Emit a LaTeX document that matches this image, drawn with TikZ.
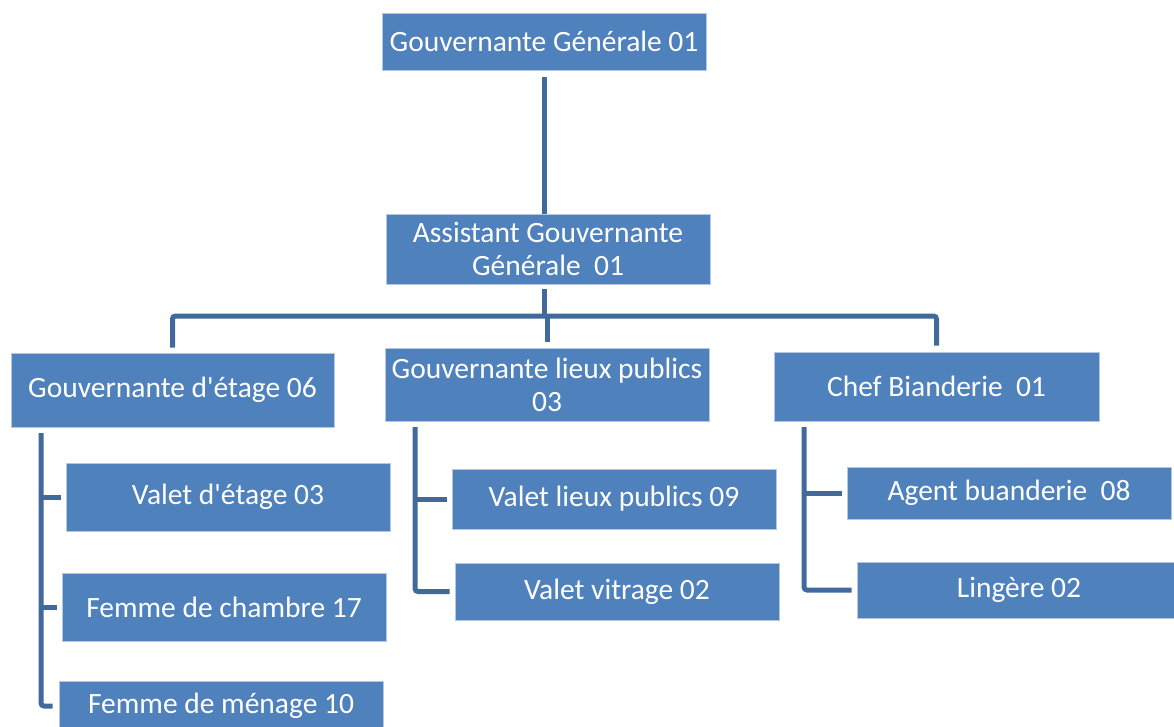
\documentclass[tikz,border=0pt]{standalone}
\usepackage{fontspec}
\setmainfont{Carlito}
\definecolor{boxblue}{HTML}{4F81BD}
\definecolor{boxedge}{HTML}{B4C8E2}
\definecolor{linkblue}{HTML}{41699C}
\begin{document}
\begin{tikzpicture}[x=1pt,y=-1pt,
  unit/.style={fill=boxblue,draw=boxedge,line width=0.8pt,text=white,
    inner sep=0pt,align=center,font=\fontsize{29.5}{33}\selectfont,
    minimum width=324pt},
  conn/.style={draw=linkblue,line width=5pt,rounded corners=3pt}]
\useasboundingbox (0,0) rectangle (1174,726);
\clip (0,0) rectangle (1174,726);

% management levels
\node[unit,minimum height=57pt] (top)  at (544,41.5) {Gouvernante Générale 01};
\node[unit,minimum height=70pt] (asst) at (548,249) {Assistant Gouvernante\\Générale~~01};

% department heads
\node[unit,minimum width=323pt,minimum height=74pt] (ge) at (172.5,390) {Gouvernante d\textquotesingle étage 06};
\node[unit,minimum height=73pt] (glp)  at (547,384.5) {Gouvernante lieux publics\\03};
\node[unit,minimum width=325pt,minimum height=69pt] (chef) at (936.5,386.5) {Chef Bianderie~~01};

% floor staff
\node[unit,minimum height=68pt] (vde) at (228,497) {Valet d\textquotesingle étage 03};
\node[unit,minimum height=68pt] (fdc) at (224,607) {Femme de chambre 17};
\node[unit,minimum height=50pt] (fdm) at (221,706) {Femme de ménage 10};

% public areas staff
\node[unit,minimum height=60pt] (vlp) at (614,499) {Valet lieux publics 09};
\node[unit,minimum height=57pt] (vv)  at (617,591.5) {Valet vitrage 02};

% laundry staff
\node[unit,minimum height=52pt] (ab)  at (1009,493) {Agent buanderie~~08};
\node[unit,minimum height=56pt] (lin) at (1019,590) {Lingère 02};

% hierarchy links (y axis points down, so a downward shift is a negative yshift)
\coordinate (hub) at (544,316);
\coordinate (lbus) at (41,433);
\coordinate (mbus) at (415,427);
\coordinate (rbus) at (804,427);

\draw[conn] ([yshift=-7pt]top.south) -- (top.south |- asst.north);
\draw[conn] ([yshift=-5pt]asst.south -| hub) -- (hub);
\draw[conn] (hub) -| ([yshift=5pt]ge.north);
\draw[conn] (hub) -| ([yshift=6pt]chef.north);
\draw[conn] (glp.north |- hub) -- ([yshift=6pt]glp.north);

\draw[conn] (lbus) |- ([xshift=-6pt]fdm.west);
\draw[conn] (lbus |- vde.west) -- ([xshift=-5pt]vde.west);
\draw[conn] (lbus |- fdc.west) -- ([xshift=-5pt]fdc.west);

\draw[conn] (mbus) |- ([xshift=-5pt]vv.west);
\draw[conn] (mbus |- vlp.west) -- ([xshift=-5pt]vlp.west);

\draw[conn] (rbus) |- ([xshift=-5pt]lin.west);
\draw[conn] (rbus |- ab.west) -- ([xshift=-5pt]ab.west);
\end{tikzpicture}
\end{document}
